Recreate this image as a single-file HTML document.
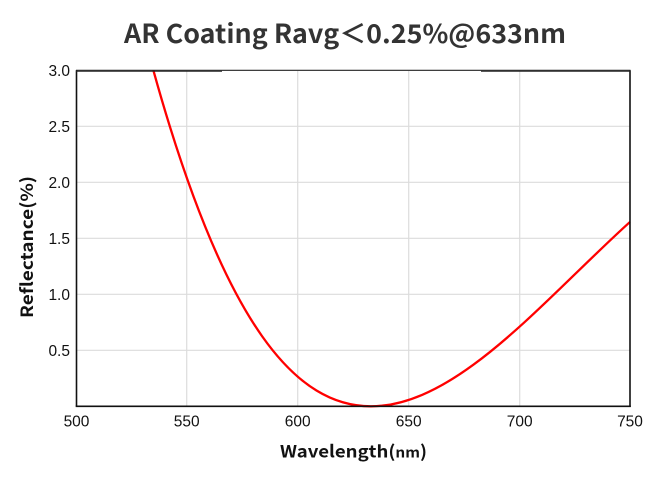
<!DOCTYPE html>
<html>
<head>
<meta charset="utf-8">
<style>
  html,body{margin:0;padding:0;background:#fff;}
  svg{display:block;}
</style>
</head>
<body>
<svg width="660" height="482" viewBox="0 0 660 482" xmlns="http://www.w3.org/2000/svg">
  <rect width="660" height="482" fill="#fff"/>
  <!-- title -->
  <text x="345" y="43" text-anchor="middle" font-family="'Noto Sans CJK SC','Liberation Sans',sans-serif" font-weight="bold" font-size="26" fill="#333" textLength="442" lengthAdjust="spacingAndGlyphs">AR Coating Ravg＜0.25%@633nm</text>

  <!-- grid -->
  <g stroke="#dcdcdc" stroke-width="1.2">
    <line x1="186.7" y1="71" x2="186.7" y2="406"/>
    <line x1="297.7" y1="71" x2="297.7" y2="406"/>
    <line x1="408.7" y1="71" x2="408.7" y2="406"/>
    <line x1="519.7" y1="71" x2="519.7" y2="406"/>
    <line x1="77" y1="126.3" x2="630" y2="126.3"/>
    <line x1="77" y1="182.3" x2="630" y2="182.3"/>
    <line x1="77" y1="238.3" x2="630" y2="238.3"/>
    <line x1="77" y1="294.3" x2="630" y2="294.3"/>
    <line x1="77" y1="350.3" x2="630" y2="350.3"/>
  </g>

  <!-- curve -->
  <path fill="none" stroke="#ff0000" stroke-width="2.3" stroke-linejoin="round"
    d="M153.37,70.3 C225.87,331.5 298.36,406.3 370.86,406.3 C457.24,406.3 543.62,300.0 630,221.95"/>

  <!-- frame -->
  <g fill="none" stroke="#111" stroke-width="1.6">
    <line x1="76.5" y1="70.3" x2="76.5" y2="406.5"/>
    <line x1="75.7" y1="406.3" x2="630.8" y2="406.3"/>
    <line x1="630" y1="70.3" x2="630" y2="407"/>
  </g>
  <line x1="76" y1="70.3" x2="630.5" y2="70.3" stroke="#222" stroke-width="1.1"/>
  <line x1="76" y1="71.2" x2="222" y2="71.2" stroke="#222" stroke-width="1"/>
  <line x1="481" y1="71.2" x2="630" y2="71.2" stroke="#222" stroke-width="1"/>

  <!-- y tick labels -->
  <g font-family="'Liberation Sans',Arial,sans-serif" font-size="15.5" fill="#111" text-anchor="end">
    <text x="70" y="75.8">3.0</text>
    <text x="70" y="131.8">2.5</text>
    <text x="70" y="187.8">2.0</text>
    <text x="70" y="243.8">1.5</text>
    <text x="70" y="299.8">1.0</text>
    <text x="70" y="355.8">0.5</text>
  </g>
  <!-- x tick labels -->
  <g font-family="'Liberation Sans',Arial,sans-serif" font-size="15.5" fill="#111" text-anchor="middle">
    <text x="76.5" y="426.5">500</text>
    <text x="186.7" y="426.5">550</text>
    <text x="297.7" y="426.5">600</text>
    <text x="408.7" y="426.5">650</text>
    <text x="519.7" y="426.5">700</text>
    <text x="630" y="426.5">750</text>
  </g>

  <!-- axis titles -->
  <text x="353.5" y="457.5" text-anchor="middle" font-family="'Noto Sans CJK SC','Liberation Sans',sans-serif" font-weight="bold" font-size="17" fill="#111" textLength="147" lengthAdjust="spacingAndGlyphs">Wavelength(<tspan font-size="14">nm</tspan>)</text>
  <text transform="translate(33,247) rotate(-90)" x="0" y="0" text-anchor="middle" font-family="'Noto Sans CJK SC','Liberation Sans',sans-serif" font-weight="bold" font-size="17" fill="#111" textLength="142" lengthAdjust="spacingAndGlyphs">Reflectance(%)</text>
</svg>
</body>
</html>
